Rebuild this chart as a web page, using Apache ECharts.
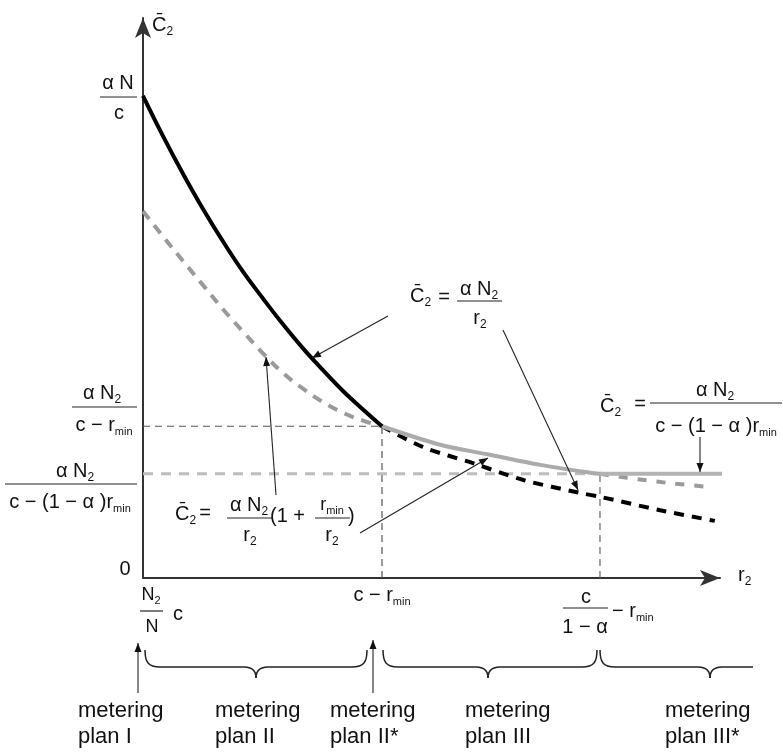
<!DOCTYPE html>
<html><head><meta charset="utf-8">
<script src="https://cdn.jsdelivr.net/npm/echarts@6/dist/echarts.min.js"></script>
<style>html,body{margin:0;padding:0;background:#fff}#c{width:783px;height:755px}</style>
</head><body><div id="c"></div>
<script>
// ---- data (x = r2, y = C2, arbitrary units) ----
const curveHyperbola = [[0.000,8.61],[0.347,7.89],[0.693,7.22],[1.040,6.59],[1.386,6.01],[1.733,5.47],[2.080,4.99],[2.426,4.53],[2.773,4.10],[3.120,3.71],[3.466,3.34],[3.813,3.01],[4.142,2.71]];
const curveHyperbolaExt = [[4.142,2.71],[4.85,2.34],[5.72,2.05],[6.59,1.75],[7.57,1.52],[7.92,1.45],[8.96,1.21],[9.91,1.02]];
const curveWithRmin = [[0.000,6.55],[0.347,6.10],[0.693,5.66],[1.040,5.23],[1.386,4.80],[1.733,4.40],[2.080,4.01],[2.426,3.66],[2.773,3.38],[3.120,3.14],[3.466,2.95],[3.813,2.81],[4.142,2.71]];
const curveWithRminOpt = [[4.142,2.71],[5.15,2.38],[6.01,2.20],[6.88,2.02],[7.75,1.88],[7.92,1.86]];
const curveWithRminExt = [[7.92,1.86],[8.39,1.79],[9.08,1.70],[9.77,1.63]];
const flatLevel = [[7.92,1.86],[10.43,1.86]];
const kneeX = [4.142, 7.92];
const kneeY = [2.71, 1.86];
const meteringLabels = [['metering','plan I'],['metering','plan II'],['metering','plan II*'],['metering','plan III'],['metering','plan III*']];

const FONT = '"Liberation Sans", Arial, sans-serif';
const chart = echarts.init(document.getElementById('c'), null, {renderer:'canvas'});

function ln(data, color, width, type, z, smooth, clip) {
  return {type:'line', data, symbol:'none', silent:true, animation:false, z, smooth: smooth||false, clip: clip!==false,
    lineStyle:{color, width, type, cap:'butt', join:'round'}};
}
const axisCommon = {
  type:'value', min:0, max:10, splitLine:{show:false}, axisTick:{show:false}, axisLabel:{show:false},
  axisLine:{show:true, onZero:false, symbol:['none','arrow'], symbolSize:[12,20], lineStyle:{color:'#333', width:2}}
};

const series = [
  ln([[0,kneeY[0]],[kneeX[0],kneeY[0]]], '#555', 1.2, [7,5], 1),
  ln([[kneeX[0],0],[kneeX[0],kneeY[0]]], '#555', 1.2, [7,5], 1),
  ln([[0,kneeY[1]],[kneeX[1],kneeY[1]]], '#bdbdbd', 3, [10,8], 1),
  ln([[kneeX[1],0],[kneeX[1],kneeY[1]]], '#666', 1.2, [7,5], 1),
  ln(curveWithRmin, '#9a9a9a', 4, [10,8], 3, 0.4),
  ln(curveWithRminExt, '#9a9a9a', 4, [9,10], 3, 0.3),
  ln(curveHyperbolaExt, '#000', 4, [10,8], 4, 0.3),
  ln(curveWithRminOpt, '#ababab', 4, 'solid', 5, 0.3),
  ln(flatLevel, '#b3b3b3', 4, 'solid', 5, false, false),
  ln(curveHyperbola, '#000', 4, 'solid', 6, 0.4)
];

chart.setOption({
  animation:false,
  backgroundColor:'#fff',
  grid:{left:143, top:18, right:63, bottom:177},
  xAxis: axisCommon,
  yAxis: axisCommon,
  series
});

// ---- annotation graphics ----
const ctx = document.createElement('canvas').getContext('2d');
function tw(t,s){ ctx.font = s+'px '+FONT; return ctx.measureText(t).width; }
const G = [];
function T(x,y,t,s){
  G.push({type:'text', x, y, silent:true, z:20,
    style:{text:t, fontSize:s, fontFamily:FONT, fill:'#111', align:'left', verticalAlign:'middle', textAlign:'left', textVerticalAlign:'middle'}});
}
function R(x,y,parts,align){
  const total = parts.reduce((a,p)=>a+tw(p[0],p[1]),0);
  let cx = align==='center' ? x-total/2 : (align==='right' ? x-total : x);
  parts.forEach(p=>{ T(cx, y+(p[2]||0), p[0], p[1]); cx += tw(p[0],p[1]); });
}
function L(x1,y1,x2,y2,wd){
  G.push({type:'line', silent:true, z:20, shape:{x1,y1,x2,y2}, style:{stroke:'#222', lineWidth:wd||1.2}});
}
function BZ(x1,y1,cpx1,cpy1,cpx2,cpy2,x2,y2){
  G.push({type:'bezierCurve', silent:true, z:20, shape:{x1,y1,cpx1,cpy1,cpx2,cpy2,x2,y2}, style:{stroke:'#222', lineWidth:1.5, fill:null}});
}
function A(x1,y1,x2,y2){
  L(x1,y1,x2,y2,1.1);
  const ang = Math.atan2(y2-y1, x2-x1), len = 9, hw = 3.5;
  const bx = x2 - len*Math.cos(ang), by = y2 - len*Math.sin(ang);
  const px = -Math.sin(ang)*hw, py = Math.cos(ang)*hw;
  G.push({type:'polygon', silent:true, z:21, shape:{points:[[x2,y2],[bx+px,by+py],[bx-px,by-py]]}, style:{fill:'#111'}});
}
function brace(x0, tip, x1, top, mid, bot, closeRight){
  BZ(x0,top, x0,mid-5, x0+3,mid, x0+15,mid);
  L(x0+15,mid, tip-12,mid, 1.5);
  BZ(tip-12,mid, tip-4,mid, tip,mid+3, tip,bot);
  BZ(tip,bot, tip,mid+3, tip+4,mid, tip+12,mid);
  if (closeRight) {
    L(tip+12,mid, x1-15,mid, 1.5);
    BZ(x1-15,mid, x1-3,mid, x1,mid-5, x1,top);
  } else {
    L(tip+12,mid, x1,mid, 1.5);
  }
}

const C = 'C\u0304';
// y-axis title
R(152,25,[[C,20],['2',12,7]]);
// y tick labels
R(118,83,[['α N',20]],'center'); L(100,97,137,97); R(119,113,[['c',20]],'center');
R(102,393,[['α N',20],['2',12,7]],'center'); L(72,407,137,407); R(104,425,[['c − r',20],['min',11,7]],'center');
R(75,471,[['α N',20],['2',12,7]],'center'); L(5,484,137,484); R(70,502,[['c − (1 − α )r',20],['min',11,7]],'center');
R(125,569,[['0',20]],'center');
// x tick labels
R(151,595,[['N',18],['2',11,6]],'center'); L(140,611,163,611); R(152,627,[['N',18]],'center'); R(178,614,[['c',20]],'center');
R(382,595,[['c − r',20],['min',11,7]],'center');
R(586,597,[['c',20]],'center'); L(563,608,608,608); R(585,627,[['1 − α',20]],'center'); R(612,611,[['− r',20],['min',11,7]]);
// x axis title
R(738,575,[['r',20],['2',12,7]]);
// annotation A
R(410,296,[[C,20],['2',12,7]]); R(444,297,[['=',20]],'center');
R(479,289,[['α N',20],['2',12,7]],'center'); L(457,301,502,301); R(480,318,[['r',20],['2',12,7]],'center');
A(388,316,312,358); A(503,330,578,490);
// annotation B
R(175,514,[[C,20],['2',12,7]]); R(205,513,[['=',20]],'center');
R(249,505,[['α N',20],['2',12,7]],'center'); L(227,518,272,518); R(250,535,[['r',20],['2',12,7]],'center');
R(270,516,[['(1 +',20]]);
R(332,505,[['r',18],['min',11,6]],'center'); L(315,518,350,518); R(332,535,[['r',20],['2',12,7]],'center');
R(348,516,[[')',20]]);
A(276,495,266,357); A(360,533,488,458);
// annotation C
R(600,406,[[C,20],['2',12,7]]); R(640,404,[['=',20]],'center');
R(715,390,[['α N',20],['2',12,7]],'center'); L(650,403,782,403); R(716,426,[['c − (1 − α )r',20],['min',11,7]],'center');
A(700,437,700,472);
// bottom arrows & braces
A(138,693,138,643); A(373,693,373,640);
brace(145,256,367,650,667,678,true);
brace(383,488,597,650,667,678,true);
brace(600,710,753,650,667,678,false);
const labelX = [78,215,330,465,665];
meteringLabels.forEach((m,i)=>{ R(labelX[i],711,[[m[0],22]]); R(labelX[i],737,[[m[1],22]]); });

chart.setOption({graphic:{elements:G}});
</script>
</body></html>
